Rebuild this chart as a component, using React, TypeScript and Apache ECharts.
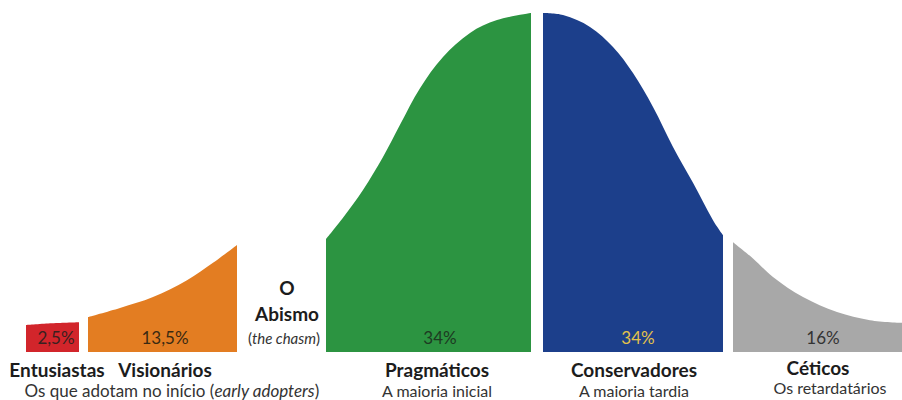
import React, { useEffect, useRef } from "react";
import * as echarts from "echarts";

// Adoption curve: x = position along the adoption timeline, y = relative share of adopters (peak = 100)
const entusiastasCurve: [number, number][] = [[26, 8.0], [52, 8.5], [79, 8.8]];
const visionariosCurve: [number, number][] = [[88, 10.3], [120, 13.0], [153, 16.2], [187, 21.2], [213, 26.3], [237, 31.6]];
const pragmaticosCurve: [number, number][] = [
  [326, 33.3], [343, 39.6], [363, 47.8], [383, 57.5], [400, 67.0], [420, 77.8],
  [443, 87.0], [470, 94.1], [497, 97.9], [531, 100],
];
const conservadoresCurve: [number, number][] = [
  [543, 100], [563, 99.4], [590, 95.9], [613, 90.0], [633, 82.3], [653, 72.3],
  [673, 60.5], [693, 49.9], [713, 38.9], [723, 34.5],
];
const ceticosCurve: [number, number][] = [[733, 32.4], [753, 27.6], [773, 22.1], [803, 16.2], [837, 11.8], [870, 9.4], [902, 8.6]];

const segmentNames = ["Entusiastas", "Visionários", "Pragmáticos", "Conservadores", "Céticos"];
const segmentShares = ["2,5%", "13,5%", "34%", "34%", "16%"];
const segmentSubtitles = ["", "", "A maioria inicial", "A maioria tardia", "Os retardatários"];
const segmentColors = ["#d2252b", "#e37d22", "#2c9441", "#1c3f8b", "#a8a8a8"];
const shareColors = ["#3a2020", "#3a2a12", "#1d3a22", "#e3c24a", "#333333"];
const curves = [entusiastasCurve, visionariosCurve, pragmaticosCurve, conservadoresCurve, ceticosCurve];

const FONT = "Lato, 'Open Sans', sans-serif";

function txt(text: string, x: number, y: number, size: number, weight: string, color: string, extra: any = {}) {
  return {
    type: "text",
    x,
    y,
    z: 100,
    silent: true,
    style: {
      text,
      fill: color,
      fontFamily: FONT,
      fontSize: size,
      fontWeight: weight,
      align: "center",
      verticalAlign: "middle",
      textAlign: "center",
      textVerticalAlign: "middle",
      ...extra,
    },
  };
}

function italicRich(size: number) {
  return {
    rich: {
      n: { fontFamily: FONT, fontSize: size, fill: "#333333" },
      i: { fontFamily: FONT, fontSize: size, fontStyle: "italic", fill: "#333333" },
    },
  };
}

export default function App() {
  const ref = useRef<HTMLDivElement>(null);

  useEffect(() => {
    if (!ref.current) return;
    const chart = echarts.init(ref.current, undefined, { renderer: "svg" });

    const series = curves.map((data, i) => ({
      type: "line",
      name: segmentNames[i],
      data,
      smooth: 0.35,
      showSymbol: false,
      symbol: "none",
      lineStyle: { width: 0 },
      areaStyle: { color: segmentColors[i], opacity: 1 },
      silent: true,
      z: 2,
    }));

    const shareX = [56, 165, 440, 638, 823];
    const labelX = [57, 165, 437, 634, 818];
    const subX = [0, 0, 437, 634, 830];

    const graphics: any[] = [];
    segmentShares.forEach((s, i) => {
      graphics.push(txt(s, shareX[i], 337, 17, "normal", shareColors[i]));
    });
    segmentNames.forEach((n, i) => {
      graphics.push(txt(n, labelX[i], i === 4 ? 367 : 369, 19, "bold", "#1c1c1c"));
      if (segmentSubtitles[i]) {
        graphics.push(txt(segmentSubtitles[i], subX[i], i === 4 ? 387 : 390, 16, "normal", "#333333"));
      }
    });
    graphics.push(
      txt("{n|Os que adotam no início (}{i|early adopters}{n|)}", 172, 390, 17, "normal", "#333333", italicRich(17))
    );
    graphics.push(txt("O", 287, 287, 19, "bold", "#1c1c1c"));
    graphics.push(txt("Abismo", 287, 313, 19, "bold", "#1c1c1c"));
    graphics.push(txt("{n|(}{i|the chasm}{n|)}", 284, 338, 15, "normal", "#333333", italicRich(15)));

    chart.setOption({
      animation: false,
      backgroundColor: "#ffffff",
      grid: { left: 0, right: 0, top: 13, bottom: 48 },
      xAxis: { type: "value", min: 0, max: 902, show: false },
      yAxis: { type: "value", min: 0, max: 100, show: false },
      series,
      graphic: graphics,
    });

    return () => chart.dispose();
  }, []);

  return <div ref={ref} style={{ position: "absolute", left: 0, top: 0, width: 902, height: 400 }} />;
}
